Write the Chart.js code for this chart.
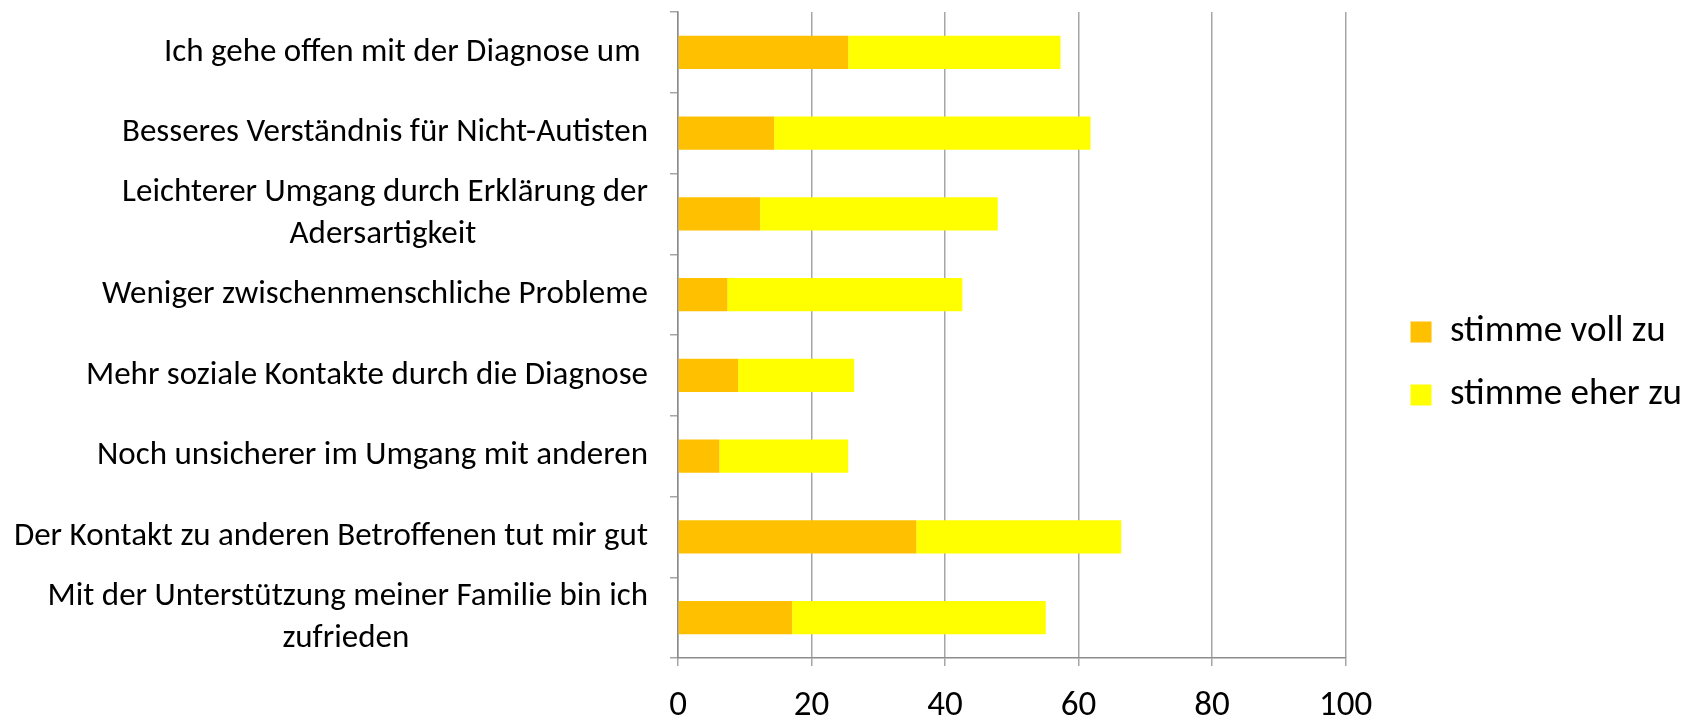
<!DOCTYPE html>
<html>
<head>
<meta charset="utf-8">
<script src="https://cdn.jsdelivr.net/npm/chart.js@4/dist/chart.umd.min.js"></script>
<style>
  html, body { margin: 0; padding: 0; background: #fff; }
  #wrap { width: 1690px; height: 721px; }
</style>
</head>
<body>
<div id="wrap"><canvas id="chart" width="1690" height="721"></canvas></div>
<script>
// data (percent)
var categories = [
    ['Ich gehe offen mit der Diagnose um '],
    ['Besseres Verständnis für Nicht-Autisten'],
    ['Leichterer Umgang durch Erklärung der', 'Adersartigkeit'],
    ['Weniger zwischenmenschliche Probleme'],
    ['Mehr soziale Kontakte durch die Diagnose'],
    ['Noch unsicherer im Umgang mit anderen'],
    ['Der Kontakt zu anderen Betroffenen tut mir gut'],
    ['Mit der Unterstützung meiner Familie bin ich', 'zufrieden']
];
var voll = [25.5, 14.4, 12.3, 7.4, 9.0, 6.2, 35.7, 17.1];
var eher = [31.8, 47.4, 35.6, 35.2, 17.4, 19.3, 30.7, 38.0];
var xTicks = [0, 20, 40, 60, 80, 100];

var fontFam = 'Carlito, Lato, sans-serif';
var labelSize = 33;

// pad shorter lines with spaces so the lines of one label sit centred under each other
var mctx = document.createElement('canvas').getContext('2d');
function centerLines(lines) {
    mctx.font = labelSize + 'px ' + fontFam;
    var w = lines.map(function(l){ return mctx.measureText(l).width; });
    var maxW = Math.max.apply(null, w);
    var sp = mctx.measureText(' ').width;
    return lines.map(function(l, i){
        return l + ' '.repeat(Math.round((maxW - w[i]) / 2 / sp));
    });
}
var labels = categories.map(function(c){ return c.length > 1 ? centerLines(c) : c[0]; });

// the legend sits right after the plot area; push it further right
var legendShift = {
    id: 'legendShift',
    afterLayout: function(chart) {
        chart.legend.left += 39;
        chart.legend.right += 39;
        chart.legend.top -= 3;
        chart.legend.bottom -= 3;
    }
};

var ctx = document.getElementById('chart').getContext('2d');
var chart = new Chart(ctx, {
    type: 'bar',
    data: {
        labels: labels,
        datasets: [{
            label: 'stimme voll zu',
            data: voll,
            backgroundColor: '#FFC000',
            categoryPercentage: 1,
            barPercentage: 0.41
        }, {
            label: 'stimme eher zu',
            data: eher,
            backgroundColor: '#FFFF00',
            categoryPercentage: 1,
            barPercentage: 0.41
        }]
    },
    options: {
        indexAxis: 'y',
        responsive: false,
        animation: false,
        layout: { padding: { left: 0, top: 12, right: 37, bottom: 0 } },
        plugins: {
            tooltip: { enabled: false },
            legend: {
                position: 'right',
                labels: {
                    boxWidth: 21,
                    boxHeight: 21,
                    padding: 26,
                    color: '#000',
                    font: { family: fontFam, size: 37 }
                }
            }
        },
        scales: {
            x: {
                stacked: true,
                min: 0,
                max: 100,
                afterBuildTicks: function(axis){
                    axis.ticks = xTicks.map(function(v){ return { value: v }; });
                },
                afterFit: function(axis){
                    axis.height = 63;
                },
                grid: { color: '#a6a6a6', lineWidth: 1.5, tickLength: 8 },
                border: { color: '#8c8c8c', width: 1.5 },
                ticks: { color: '#000', padding: 23, font: { family: fontFam, size: 35, lineHeight: 1 } }
            },
            y: {
                stacked: true,
                offset: true,
                afterFit: function(axis){
                    axis.width = 678;
                    axis.paddingTop = 0;
                    axis.paddingBottom = 0;
                },
                grid: { offset: true, drawOnChartArea: false, color: '#a6a6a6', lineWidth: 1.5, tickLength: 8 },
                border: { color: '#8c8c8c', width: 1.5 },
                ticks: { color: '#000', padding: 22, autoSkip: false, font: { family: fontFam, size: labelSize, lineHeight: 1.27 } }
            }
        }
    },
    plugins: [legendShift]
});
</script>
</body>
</html>
